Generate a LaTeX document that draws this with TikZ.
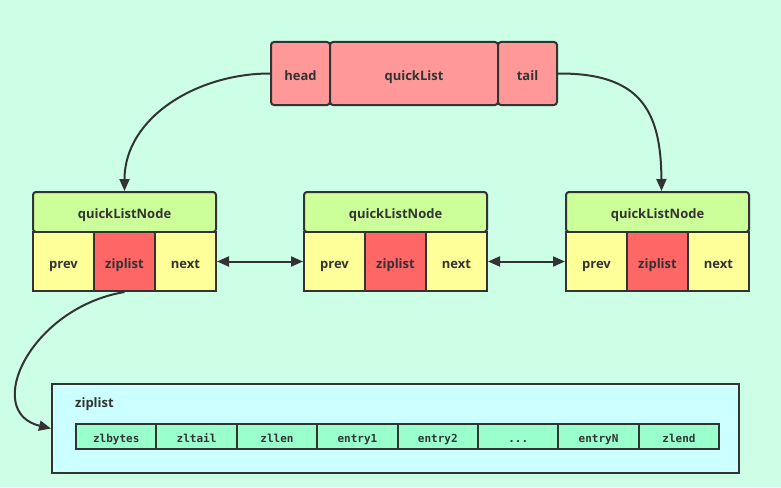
\documentclass[tikz,border=0pt]{standalone}
\usepackage{fontspec}
\setmainfont{Open Sans}
\newfontfamily\monofont{DejaVu Sans Mono}
\usetikzlibrary{arrows.meta}
\definecolor{bg}{RGB}{204,255,230}
\definecolor{lc}{RGB}{51,51,51}
\definecolor{qlfill}{RGB}{255,153,153}
\definecolor{hdfill}{RGB}{204,255,153}
\definecolor{cellfill}{RGB}{255,255,153}
\definecolor{zlfill}{RGB}{255,102,102}
\definecolor{boxfill}{RGB}{204,255,255}
\definecolor{entfill}{RGB}{153,255,204}
\tikzset{
  cellbox/.style={draw=lc, line width=2pt, anchor=north west, inner sep=0pt, font=\bfseries\fontsize{13}{15}\selectfont, text=lc, text height=1.5em, text depth=0.2em},
  toprect/.style={cellbox, fill=qlfill, rounded corners=3pt, minimum height=63pt},
  hdr/.style={cellbox, fill=hdfill, rounded corners=3pt, minimum width=183pt, minimum height=40pt},
  ncell/.style={cellbox, fill=cellfill, minimum width=61pt, minimum height=59pt},
  zcell/.style={cellbox, fill=zlfill, minimum width=61pt, minimum height=59pt},
  ent/.style={draw=lc, line width=2pt, anchor=north west, inner sep=0pt, fill=entfill, minimum width=80.4pt, minimum height=25pt, font=\monofont\bfseries\fontsize{11}{12}\selectfont, text=lc, text height=1.3em, text depth=0.2em},
  conn/.style={draw=lc, line width=2pt},
  tip/.style={-{Triangle[length=12pt,width=10pt]}},
  dtip/.style={{Triangle[length=12pt,width=10pt]}-{Triangle[length=12pt,width=10pt]}}
}
\begin{document}
\begin{tikzpicture}[x=1pt,y=-1pt]
\fill[bg] (0,0) rectangle (781,487);
\useasboundingbox (0,0) rectangle (781,487);
% top quickList
\node[toprect, minimum width=59pt] (head) at (270,41) {head};
\node[toprect, minimum width=168pt] (ql) at (329,41) {quickList};
\node[toprect, minimum width=59pt] (tail) at (497,41) {tail};
% quickListNodes
\foreach \n/\x in {L/32, M/303, R/565}{
  \node[hdr] (h\n) at (\x,191) {quickListNode};
  \node[ncell] (p\n) at (\x,231) {prev};
  \node[zcell] (z\n) at (\x+61,231) {ziplist};
  \node[ncell] (n\n) at (\x+122,231) {next};
}
% connectors
\draw[conn,tip] (head.west) to[out=180,in=90] (hL.north);
\draw[conn,tip] (tail.east) .. controls (640,73) and (661,110) .. ([xshift=4pt]hR.north);
\draw[conn,dtip] (nL.east) -- (pM.west);
\draw[conn,dtip] (nM.east) -- (pR.west);
% ziplist box
\node[draw=lc, line width=2pt, fill=boxfill, anchor=north west, minimum width=687pt, minimum height=89pt, inner sep=0pt] (zbox) at (51,383) {};
\node[anchor=west, font=\bfseries\fontsize{13}{15}\selectfont, text=lc, inner sep=0pt] (zlabel) at (75,404) {ziplist};
\node[ent] (e0) at (75,423) {zlbytes};
\node[ent] (e1) at (155.4,423) {zltail};
\node[ent] (e2) at (235.8,423) {zllen};
\node[ent] (e3) at (316.2,423) {entry1};
\node[ent] (e4) at (396.6,423) {entry2};
\node[ent] (e5) at (477,423) {...};
\node[ent] (e6) at (557.4,423) {entryN};
\node[ent] (e7) at (637.8,423) {zlend};
\draw[conn,tip] (zL.south) .. controls (30,308) and (-18,412) .. (zbox.west);
\end{tikzpicture}
\end{document}
